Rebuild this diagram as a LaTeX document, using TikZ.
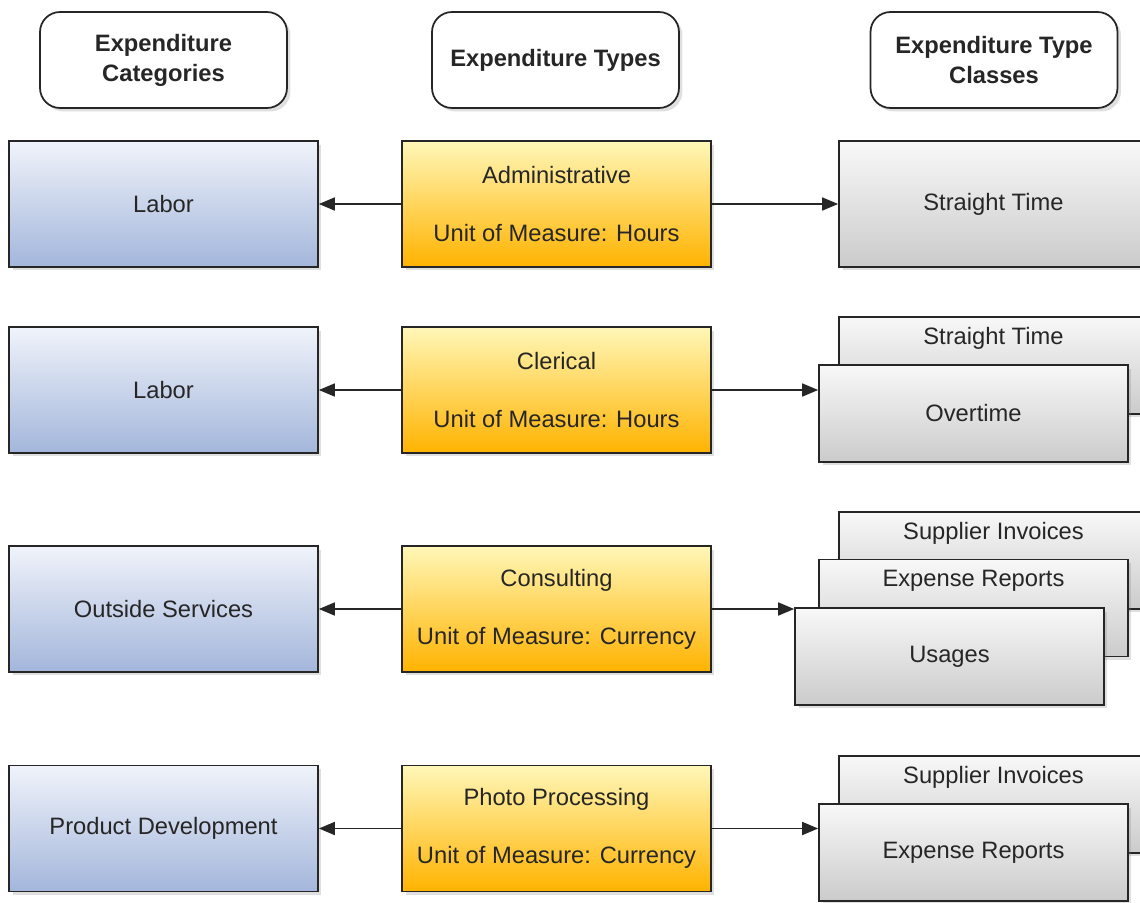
\documentclass[tikz,border=0pt]{standalone}
\usepackage{fontspec}
\setmainfont{Liberation Sans}
\usetikzlibrary{arrows.meta,
	shadows,
	calc}
\definecolor{catTop}{HTML}{F0F3FA}
\definecolor{catBot}{HTML}{A3B6DB}
\definecolor{typTop}{HTML}{FFF7B8}
\definecolor{typBot}{HTML}{FFB300}
\definecolor{clsTop}{HTML}{F8F8F8}
\definecolor{clsBot}{HTML}{CBCBCB}
\tikzset{
	boxfont/.style={font=\fontsize{13.5}{33}\selectfont, text=black!85},
	shade box/.style={draw=black!85, line width=1pt, align=center, boxfont,
		drop shadow={shadow xshift=0.07cm, shadow yshift=-0.07cm, opacity=0.25}},
	headbox/.style={shade box, fill=white, rounded corners=0.4cm,
		minimum width=4.94cm, minimum height=1.92cm,
		font=\bfseries\fontsize{13.5}{17}\selectfont},
	catbox/.style={shade box, top color=catTop, bottom color=catBot,
		minimum width=6.18cm, minimum height=2.52cm},
	typbox/.style={shade box, top color=typTop, bottom color=typBot,
		minimum width=6.18cm, minimum height=2.52cm},
	clsbox/.style={shade box, top color=clsTop, bottom color=clsBot,
		minimum width=6.18cm, minimum height=1.94cm},
	flow/.style={draw=black!85, line width=1pt, -{Triangle[length=0.32cm,width=0.26cm]}}
}

\begin{document}
\begin{tikzpicture}[x=0.02cm, y=-0.02cm]
	\clip (0, 0) rectangle (1140, 903);
	% column headers
	\node[headbox] (hcat) at (163.5, 60) {Expenditure\\Categories};
	\node[headbox] (htyp) at (555.5, 60) {Expenditure Types};
	\node[headbox] (hcls) at (994, 60) {Expenditure Type\\Classes};
	% categories and types
	\foreach \n/\y/\cat/\typ/\uom in {1/204/Labor/Administrative/Hours,
		2/390/Labor/Clerical/Hours,
		3/609/Outside Services/Consulting/Currency,
		4/828.5/Product Development/Photo Processing/Currency} {
		\node[catbox] (cat\n) at (163.5, \y) {\cat};
		\node[typbox] (typ\n) at (556.5, \y) {\typ\\Unit of Measure: \uom};
		\draw[flow] (typ\n) -- (cat\n);
	}
	% classes
	\node[clsbox, minimum height=2.52cm] (cls1) at (993.5, 204) {Straight Time};
	\draw[flow] (typ1) -- (cls1);

	\node[clsbox] (cls2b) at (993.5, 365.5) {};
	\node[boxfont] (cls2bt) at ($(cls2b.north)+(0, 22)$) {Straight Time};
	\node[clsbox] (cls2) at (973.5, 413.5) {Overtime};
	\draw[flow] (typ2.east) -- (typ2.east -| cls2.west);

	\node[clsbox] (cls3c) at (993.5, 560.5) {};
	\node[boxfont] (cls3ct) at ($(cls3c.north)+(0, 22)$) {Supplier Invoices};
	\node[clsbox] (cls3b) at (973.5, 608) {};
	\node[boxfont] (cls3bt) at ($(cls3b.north)+(0, 22)$) {Expense Reports};
	\node[clsbox] (cls3) at (949.5, 656.5) {Usages};
	\draw[flow] (typ3.east) -- (typ3.east -| cls3.west);

	\node[clsbox] (cls4b) at (993.5, 804.5) {};
	\node[boxfont] (cls4bt) at ($(cls4b.north)+(0, 22)$) {Supplier Invoices};
	\node[clsbox] (cls4) at (973.5, 852.5) {Expense Reports};
	\draw[flow] (typ4.east) -- (typ4.east -| cls4.west);
\end{tikzpicture}
\end{document}
